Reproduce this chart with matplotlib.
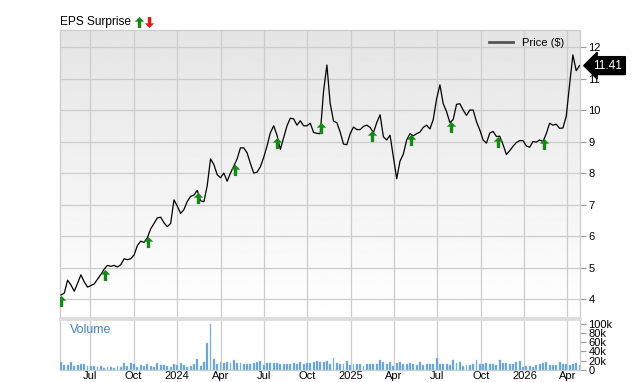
import numpy as np
import pandas as pd
import matplotlib
matplotlib.use("Agg")
import matplotlib.pyplot as plt
import matplotlib.dates as mdates
import matplotlib.transforms as mtransforms
from matplotlib.path import Path
from matplotlib.lines import Line2D

plt.rcParams['font.family'] = ['Liberation Sans', 'DejaVu Sans']

# weekly closes
price = [
    4.13, 4.19, 4.60, 4.45, 4.25, 4.50, 4.77, 4.55, 4.38, 4.43,
    4.48, 4.63, 4.78, 4.95, 5.07, 5.04, 5.07, 5.02, 5.09, 5.28,
    5.25, 5.28, 5.40, 5.70, 5.84, 5.80, 5.95, 6.23, 6.40, 6.58,
    6.60, 6.42, 6.30, 6.40, 7.15, 6.95, 6.72, 6.84, 7.10, 7.26,
    7.30, 7.45, 7.12, 7.09, 7.60, 8.45, 8.27, 7.95, 7.85, 8.00,
    7.74, 8.00, 8.22, 8.45, 8.80, 8.80, 8.64, 8.30, 8.00, 8.03,
    8.20, 8.50, 8.86, 9.28, 9.50, 9.20, 8.75, 9.12, 9.50, 9.74,
    9.72, 9.52, 9.66, 9.50, 9.50, 9.58, 9.29, 9.26, 9.25, 10.60,
    11.43, 10.20, 9.65, 9.60, 9.30, 8.92, 8.90, 9.25, 9.46, 9.38,
    9.38, 9.48, 9.52, 9.45, 9.28, 9.60, 9.85, 9.15, 9.05, 9.20,
    8.50, 7.82, 8.38, 8.60, 9.05, 9.25, 9.18, 9.25, 9.30, 9.45,
    9.52, 9.40, 9.70, 10.35, 10.80, 10.20, 9.95, 9.60, 9.70, 10.18,
    10.20, 10.00, 9.83, 10.00, 10.00, 9.63, 9.37, 9.05, 8.95, 9.27,
    9.32, 9.16, 9.17, 8.90, 8.59, 8.71, 8.85, 8.97, 9.03, 9.03,
    8.86, 8.82, 9.00, 8.98, 9.05, 9.00, 9.25, 9.58, 9.52, 9.55,
    9.42, 9.43, 9.80, 10.80, 11.75, 11.25, 11.41,
]

# weekly volume in thousands
volume_k = [
    18, 11, 11, 18, 9, 11, 13, 14, 9, 9,
    9, 6, 9, 4, 7, 6, 4, 9, 7, 16,
    9, 16, 13, 7, 11, 9, 14, 9, 7, 16,
    10, 11, 9, 7, 12, 10, 16, 10, 7, 9,
    13, 23, 9, 18, 59, 100, 23, 14, 18, 16,
    18, 16, 21, 16, 16, 14, 14, 13, 16, 18,
    20, 11, 16, 16, 16, 16, 14, 14, 14, 14,
    16, 14, 18, 14, 16, 16, 18, 19, 17,
    18, 20, 14, 25, 16, 14, 14, 20, 11, 12,
    12, 13, 9, 12, 13, 14, 13, 21, 18, 14,
    17, 9, 16, 17, 12, 14, 16, 14, 11, 17,
    11, 13, 13, 13, 25, 13, 13, 12, 11, 21,
    16, 18, 9, 10, 11, 14, 21, 14, 14, 15,
    13, 14, 11, 21, 16, 16, 13, 12, 18, 20,
    7, 9, 9, 7, 11, 13, 16, 17, 10, 11,
    11, 17, 14, 13, 11, 14, 16, 10,
]

dates = pd.date_range("2023-05-01", periods=len(price), freq="7D")

eps_dates = ["2023-05-01", "2023-08-01", "2023-10-31", "2024-02-13",
             "2024-05-01", "2024-07-30", "2024-10-30", "2025-02-13",
             "2025-05-07", "2025-07-31", "2025-11-06", "2026-02-12"]

last_price = 11.41
price_ticks = [4, 5, 6, 7, 8, 9, 10, 11, 12]
vol_ticks = [0, 20000, 40000, 60000, 80000, 100000]
vol_labels = ["0", "20k", "40k", "60k", "80k", "100k"]

grid_c = "#cccccc"
green = "#148a14"
red = "#e8191b"

up_arrow = Path([(0, 1), (0.85, 0.15), (0.3, 0.15), (0.3, -1), (-0.3, -1),
                 (-0.3, 0.15), (-0.85, 0.15), (0, 1)])
down_arrow = Path([(x, -y) for x, y in up_arrow.vertices])

W, H = 640, 382
fig = plt.figure(figsize=(6.4, 3.82), dpi=100)
ax = fig.add_axes([60 / W, 1 - 318 / H, 520 / W, 288 / H])
axv = fig.add_axes([60 / W, 1 - 370 / H, 520 / W, 51 / H], sharex=ax)

xmin = pd.Timestamp("2023-04-29")
xmax = pd.Timestamp("2026-04-28")

# gradient background for price panel: gray on top fading to white
grad = np.linspace(0.895, 1.0, 256).reshape(-1, 1)
ax.imshow(grad, cmap="gray", vmin=0, vmax=1, aspect="auto", origin="upper",
          extent=[0, 1, 0, 1], transform=ax.transAxes, zorder=0)

ax.plot(dates, price, color="black", lw=0.9, zorder=3)
ax.set_xlim(xmin, xmax)
ax.set_ylim(3.4, 12.54)

# eps surprise arrows
eps_dt = pd.to_datetime(eps_dates)
eps_y = np.interp(mdates.date2num(eps_dt), mdates.date2num(dates), price)
arr_tr = mtransforms.offset_copy(ax.transData, fig=fig, x=0, y=-6, units="dots")
ax.plot(eps_dt, eps_y, linestyle="none", marker=up_arrow, markersize=8,
        color=green, markeredgewidth=0, transform=arr_tr, zorder=4)

ax.yaxis.tick_right()
ax.set_yticks(price_ticks)
ax.tick_params(axis="y", which="both", direction="out", length=4, width=0.8,
               color="#999999", labelsize=8, pad=2)
ax.tick_params(axis="x", which="both", length=0, labelbottom=False)
ax.grid(True, color=grid_c, lw=0.9)
ax.set_axisbelow(True)
for s in ax.spines.values():
    s.set_color(grid_c)
    s.set_linewidth(0.9)
ax.spines["bottom"].set_color("#dddddd")
ax.spines["bottom"].set_linewidth(2)

leg = ax.legend([Line2D([], [], color="#555555", lw=2)], ["Price ($)"],
                loc="upper right", frameon=False, fontsize=8,
                handlelength=2.2, borderaxespad=0.3, bbox_to_anchor=(0.985, 1.0))

# last price tag
tag_tr = mtransforms.blended_transform_factory(ax.transAxes, ax.transData)
ax.text(1.026, last_price, "11.41", transform=tag_tr, color="white",
        fontsize=8.5, va="center", ha="left", clip_on=False,
        bbox=dict(boxstyle="larrow,pad=0.25", fc="black", ec="black"))

# volume panel
axv.bar(dates, [v * 1000 for v in volume_k], width=4, color="#5f9fd8",
        edgecolor="#9cc4ea", linewidth=0.3, zorder=3)
axv.set_ylim(0, 110000)
axv.yaxis.tick_right()
axv.set_yticks(vol_ticks)
axv.set_yticklabels(vol_labels)
axv.tick_params(axis="y", direction="out", length=4, width=0.8,
                color="#999999", labelsize=8, pad=2)
axv.tick_params(axis="x", length=0, labelsize=8, pad=1)
axv.grid(True, axis="x", color=grid_c, lw=0.9)
axv.set_axisbelow(True)
for s in axv.spines.values():
    s.set_color(grid_c)
    s.set_linewidth(0.9)
axv.spines["top"].set_color("#dddddd")
axv.spines["top"].set_linewidth(2)
axv.text(0.02, 0.78, "Volume", transform=axv.transAxes, color="#3a87c8",
         fontsize=9, va="center", ha="left")

axv.xaxis.set_major_locator(mdates.MonthLocator(bymonth=[1, 4, 7, 10]))


def fmt_date(x, pos=None):
    d = mdates.num2date(x)
    return str(d.year) if d.month == 1 else d.strftime("%b")


axv.xaxis.set_major_formatter(plt.FuncFormatter(fmt_date))

# title with arrows
fig.text(60 / W, 1 - 22 / H, "EPS Surprise", fontsize=8.6, va="center", ha="left")
fig.add_artist(Line2D([139 / W], [1 - 22 / H], marker=up_arrow, markersize=8,
                      color=green, markeredgewidth=0, transform=fig.transFigure))
fig.add_artist(Line2D([149 / W], [1 - 22 / H], marker=down_arrow, markersize=8,
                      color=red, markeredgewidth=0, transform=fig.transFigure))

fig.savefig("out.png", dpi=100)
